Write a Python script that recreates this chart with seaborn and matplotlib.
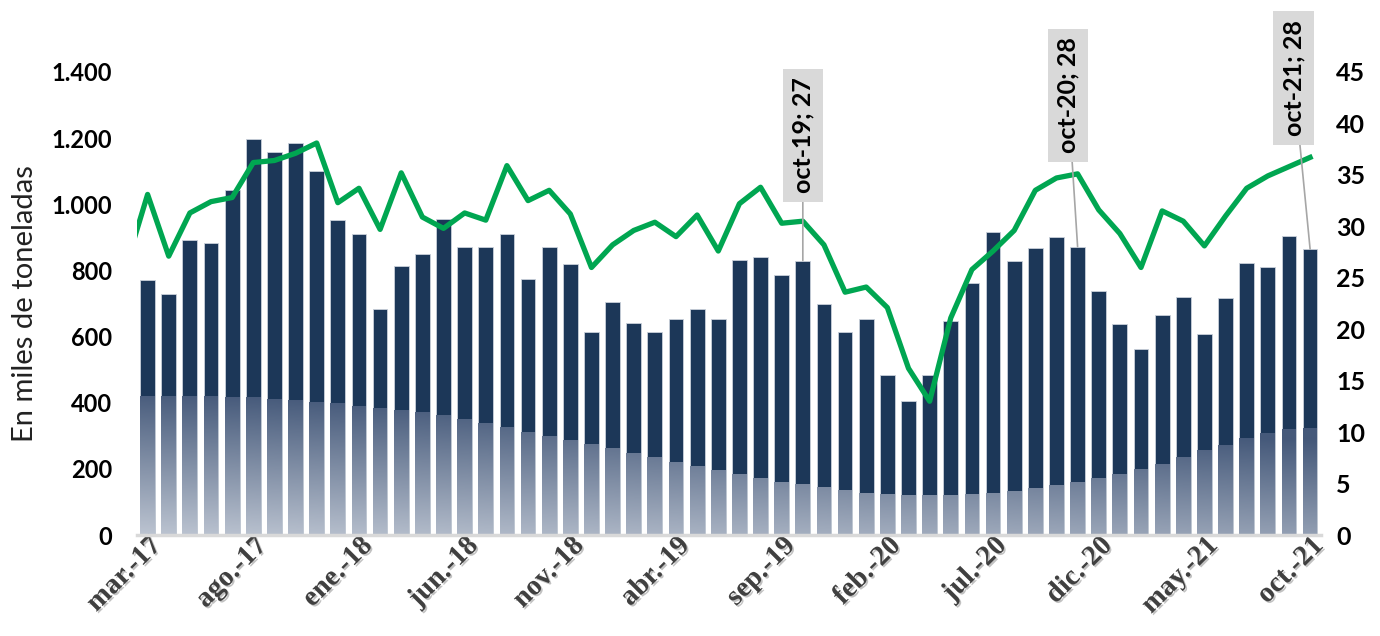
import numpy as np
import pandas as pd
import matplotlib
matplotlib.use("Agg")
import matplotlib.pyplot as plt
import matplotlib.patheffects as pe
from matplotlib.path import Path
from matplotlib.colors import LinearSegmentedColormap
from matplotlib.ticker import FuncFormatter
from matplotlib.transforms import ScaledTranslation
import seaborn as sns

# meses mar-17 .. oct-21
abrev = ["ene.", "feb.", "mar.", "abr.", "may.", "jun.", "jul.", "ago.", "sep.", "oct.", "nov.", "dic."]
meses = [f"{abrev[(2 + k) % 12]}-{17 + (2 + k) // 12}" for k in range(56)]

# barras, miles de toneladas
volumen = [770, 728, 893, 882, 1042, 1196, 1157, 1185, 1100, 951,
           911, 682, 813, 849, 956, 871, 870, 910, 773, 870,
           819, 613, 705, 642, 613, 654, 682, 654, 831, 842,
           785, 830, 699, 614, 653, 483, 404, 483, 648, 763,
           916, 830, 867, 900, 872, 739, 637, 561, 664, 721,
           607, 716, 823, 809, 905, 865]

# linea verde (eje derecho), feb-17 .. oct-21
linea = [26.3,
         33.1, 27.1, 31.3, 32.4, 32.8, 36.2, 36.4, 37.1, 38.1, 32.3,
         33.7, 29.7, 35.2, 30.9, 29.8, 31.3, 30.6, 35.9, 32.5, 33.5,
         31.2, 26.0, 28.2, 29.6, 30.4, 29.0, 31.1, 27.6, 32.2, 33.8,
         30.3, 30.5, 28.2, 23.6, 24.1, 22.1, 16.2, 13.0, 21.1, 25.8,
         27.6, 29.6, 33.5, 34.7, 35.1, 31.6, 29.3, 26.0, 31.5, 30.5,
         28.1, 31.0, 33.7, 34.9, 35.8, 36.7]

# borde de la zona clara (degradado) dentro de las barras
sombra = [420, 420, 420, 420, 418, 416, 411, 408, 403, 398,
          391, 385, 378, 371, 363, 352, 338, 328, 312, 299,
          287, 275, 262, 247, 235, 222, 209, 197, 184, 171,
          161, 155, 146, 135, 128, 123, 120, 120, 120, 123,
          127, 133, 141, 151, 161, 172, 185, 200, 215, 236,
          257, 273, 294, 309, 320, 325]

etiquetas = ["oct-19; 27", "oct-20; 28", "oct-21; 28"]
etiqueta_idx = [31, 44, 55]
etiqueta_off = [(0, 90), (-7, 109), (-12, 123)]

navy = "#1c3758"
verde = "#00a651"
sans = "Lato"

df = pd.DataFrame({"mes": meses, "volumen": volumen})

fig = plt.figure(figsize=(13.8, 6.36), dpi=100)
ax = fig.add_axes([0.0993, 0.1588, 0.8577, 0.728])

sns.barplot(data=df, x="mes", y="volumen", color=navy, saturation=1,
            width=0.7, ax=ax, edgecolor="#c9d0da", linewidth=0.6, zorder=2)

# zona clara con degradado, recortada a las barras
pos = np.arange(len(meses))
low = ax.bar(pos, sombra, width=0.7, color="none", linewidth=0)
paths = [p.get_path().transformed(p.get_patch_transform()) for p in low]
clip = Path.make_compound_path(*paths)
cmap = LinearSegmentedColormap.from_list("grad", ["#bcc4d1", "#45597a"])
xs = np.linspace(-0.5, 55.5, 300)
vs = np.linspace(0, 440, 220)
T = np.clip(vs[:, None] / 440 + 0.35 * (xs[None, :] + 0.5) / 56, 0, 1)
im = ax.imshow(T, extent=[-0.5, 55.5, 0, 440], origin="lower", aspect="auto",
               cmap=cmap, vmin=0, vmax=1, zorder=2.5)
im.set_clip_path(clip, ax.transData)

ax.set_xlim(-0.5, 55.5)
ax.set_ylim(0, 1400)
ax.set_yticks(range(0, 1401, 200))
ax.yaxis.set_major_formatter(FuncFormatter(lambda v, p: f"{int(v):,}".replace(",", ".")))

# etiquetas del eje x, cada 5 meses
ax.set_xticks(pos[::5])
ax.set_xticklabels([])
shift = ScaledTranslation(7 / 72, -5 / 72, fig.dpi_scale_trans)
for i in pos[::5]:
    ax.text(i, 0, meses[i], transform=ax.get_xaxis_transform() + shift,
            rotation=45, ha="right", va="center", rotation_mode="anchor",
            family="Liberation Serif", fontweight="bold", fontsize=20.5,
            color="#404040",
            path_effects=[pe.withSimplePatchShadow(offset=(1.2, -1.2),
                                                   shadow_rgbFace="#9a9a9a", alpha=0.6)])
ax.tick_params(axis="x", length=0)
ax.tick_params(axis="y", length=0, pad=18, labelsize=17)
for t in ax.get_yticklabels():
    t.set_fontweight("bold")
    t.set_family(sans)
ax.set_xlabel("")
ax.set_ylabel("En miles de toneladas", family=sans, fontsize=21, color="#222222", labelpad=10)
for s in ["top", "left", "right"]:
    ax.spines[s].set_visible(False)
ax.spines["bottom"].set_color("#d9d9d9")
ax.spines["bottom"].set_linewidth(2.5)
ax.spines["bottom"].set_zorder(3)

ax2 = ax.twinx()
sns.lineplot(x=np.arange(-1, 56), y=linea, ax=ax2, color=verde, linewidth=3.8)
ax2.set_xlim(-0.5, 55.5)
ax2.set_ylim(0, 45)
ax2.set_yticks(range(0, 46, 5))
ax2.tick_params(axis="y", length=0, pad=11, labelsize=18)
for t in ax2.get_yticklabels():
    t.set_fontweight("bold")
    t.set_family(sans)
for s in ax2.spines.values():
    s.set_visible(False)

for txt, i, off in zip(etiquetas, etiqueta_idx, etiqueta_off):
    ax2.annotate(txt, xy=(i, volumen[i]), xycoords=ax.transData,
                 xytext=off, textcoords="offset points", rotation=90,
                 ha="center", va="center", family=sans, fontweight="bold",
                 fontsize=18, color="black", annotation_clip=False,
                 bbox=dict(boxstyle="square,pad=0.35", fc="#d9d9d9", ec="none"),
                 arrowprops=dict(arrowstyle="-", color="#a6a6a6", lw=1.2,
                                 shrinkA=0, shrinkB=0))

fig.savefig("out.png", dpi=100)
